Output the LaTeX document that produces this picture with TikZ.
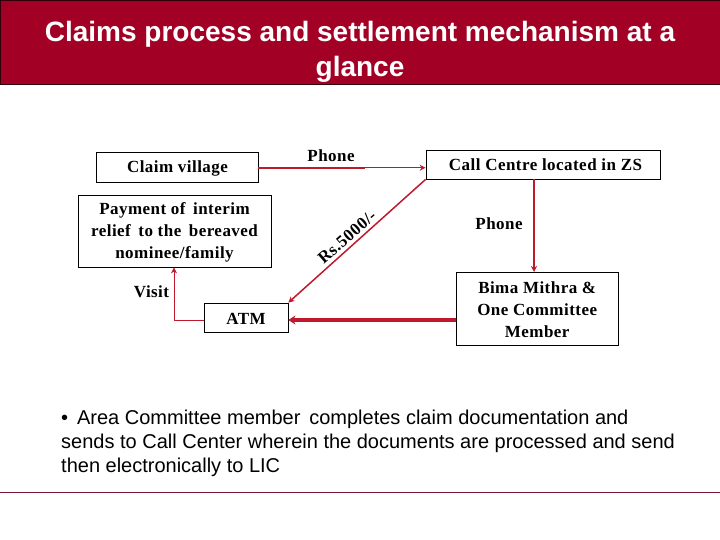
\documentclass[tikz,border=0pt]{standalone}
\usepackage{fontspec}
\setmainfont[LetterSpace=2.7]{Liberation Serif}
\newfontfamily\arialf{Liberation Sans}
\usetikzlibrary{arrows.meta}
\definecolor{lred}{RGB}{162,0,36}
\definecolor{lline}{RGB}{190,25,45}
\definecolor{lrule}{RGB}{120,25,55}
\tikzset{
 x=1bp,y=-1bp,
 boxn/.style={draw=black,line width=0.8bp,fill=white,inner sep=0pt},
 lab/.style={inner sep=0pt,align=center,font=\fontsize{17bp}{22bp}\selectfont\bfseries},
 thinl/.style={draw=lline,line width=1bp},
 tip/.style={-{Stealth[length=6bp,width=6bp]}},
}
\begin{document}
\begin{tikzpicture}
\useasboundingbox (0,0) rectangle (720,540);
\node[draw=black!70!lred,fill=lred,line width=0.8bp,minimum width=720bp,minimum height=84bp,inner sep=0pt,anchor=north west] (banner) at (0,0) {};
\node[text=white,align=center,inner sep=0pt,font=\arialf\fontsize{28bp}{35bp}\selectfont\bfseries] (title) at (360,51.5) {Claims process and settlement mechanism at a\\glance};
\node[boxn,minimum width=161.5bp,minimum height=29.5bp] (claim) at (177.2,167.5) {};
\node[lab] (claimt) at (177.5,168.5) {Claim village};
\node[boxn,minimum width=193bp,minimum height=72bp] (pay) at (174.5,231) {};
\node[lab] (payt) at (174.5,232.5) {Payment of\, interim\\relief\, to the\, bereaved\\nominee/family};
\node[boxn,minimum width=84bp,minimum height=29bp] (atm) at (246,317.5) {};
\node[lab] (atmt) at (246,318.5) {ATM};
\node[boxn,minimum width=234bp,minimum height=29bp] (call) at (543,164.5) {};
\node[lab] (callt) at (545.5,165) {Call Centre located in ZS};
\node[boxn,minimum width=162.5bp,minimum height=73bp] (bima) at (537.2,308.5) {};
\node[lab] (bimat) at (537.2,309.5) {Bima Mithra \&\\One Committee\\Member};
\coordinate (cp) at (365,167.8);
\coordinate (cw) at (174,320);
\coordinate (ct) at (534,179);
\coordinate (bt) at (534,272);
\path[thinl,line width=2bp,draw] (claim.east |- cp) -- (cp);
\draw[thinl,tip] (cp) -- (call.west |- cp);
\draw[thinl,line width=1.5bp,tip] (call.south west) -- (atm.north east);
\draw[thinl,line width=1.5bp,tip] (ct) -- (bt);
\draw[thinl,line width=3.2bp,-{Stealth[length=7bp,width=9bp]}] (bima.west |- 0,320) -- (atm.east |- 0,320);
\draw[thinl,tip] (atm.west |- cw) -- (cw) -- (cw |- pay.south);
\node[lab] (lphone) at (331,155.5) {Phone};
\node[lab] (lphone2) at (499,223.5) {Phone};
\node[lab] (lvisit) at (151.5,292) {Visit};
\node[lab,rotate=41] (lrs) at (347,237) {Rs.5000/-};
\node[anchor=west,align=left,inner sep=0pt,font=\arialf\fontsize{20bp}{24bp}\selectfont] (note) at (61,443.7) {\textbullet\ \,Area Committee member\, completes claim documentation and\\sends to Call Center wherein the documents are processed and send\\then electronically to LIC};
\coordinate (la) at (0,492);
\coordinate (lb) at (720,492);
\draw[draw=lrule,line width=0.8bp] (la) -- (lb);
\end{tikzpicture}
\end{document}
